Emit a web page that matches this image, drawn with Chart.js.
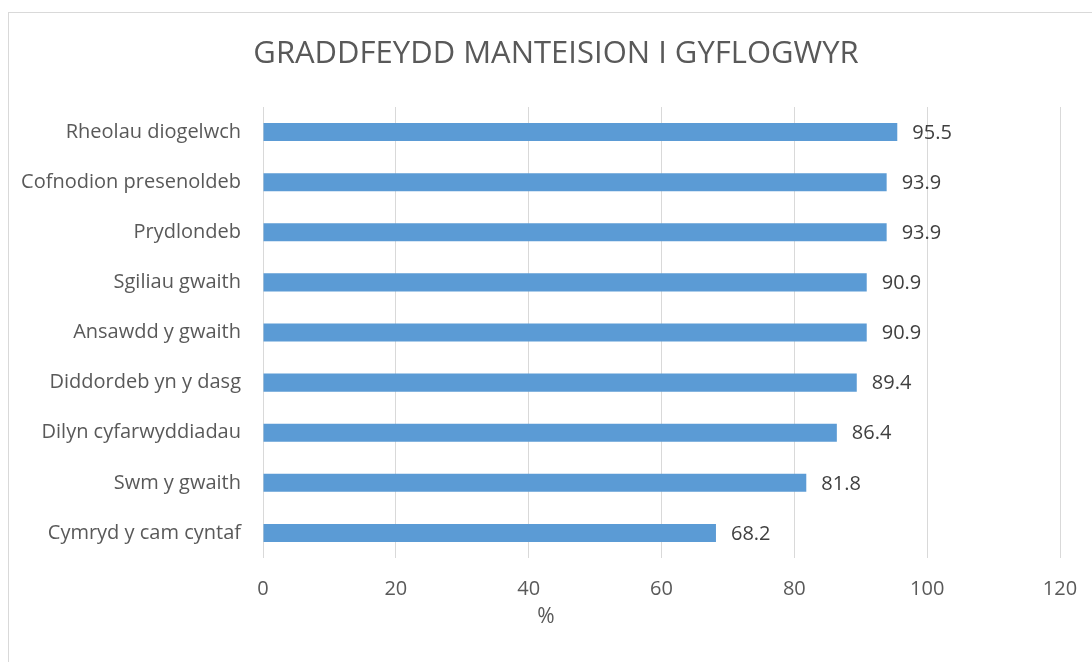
<!DOCTYPE html>
<html>
<head>
<meta charset="utf-8">
<script src="https://cdn.jsdelivr.net/npm/chart.js@4"></script>
<style>
  html, body { margin: 0; padding: 0; background: #fff; }
  #wrap { position: relative; width: 1092px; height: 662px; }
</style>
</head>
<body>
<div id="wrap"><canvas id="chart" width="1092" height="662"></canvas></div>
<script>
// data (top to bottom)
const categories = [
  'Rheolau diogelwch',
  'Cofnodion presenoldeb',
  'Prydlondeb',
  'Sgiliau gwaith',
  'Ansawdd y gwaith',
  'Diddordeb yn y dasg',
  'Dilyn cyfarwyddiadau',
  'Swm y gwaith',
  'Cymryd y cam cyntaf'
];
const values = [95.5, 93.9, 93.9, 90.9, 90.9, 89.4, 86.4, 81.8, 68.2];
const xTicks = [0, 20, 40, 60, 80, 100, 120];
const chartTitle = 'GRADDFEYDD MANTEISION I GYFLOGWYR';
const axisTitle = '%';

const FONT = "'Open Sans', 'Liberation Sans', sans-serif";
const GREY = '#595959';

// frame, title and axis title are centred on the whole chart, not the plot
const decor = {
  id: 'decor',
  beforeDraw(chart) {
    const ctx = chart.ctx;
    ctx.save();
    ctx.strokeStyle = '#d9d9d9';
    ctx.lineWidth = 1;
    ctx.strokeRect(8.5, 12.5, 1300, 900);
    ctx.restore();
  },
  afterDraw(chart) {
    const ctx = chart.ctx;
    ctx.save();
    ctx.fillStyle = GREY;
    ctx.textAlign = 'center';
    ctx.textBaseline = 'middle';
    ctx.font = '31px ' + FONT;
    ctx.fillText(chartTitle, 556, 54);
    ctx.font = '21px ' + FONT;
    ctx.fillText(axisTitle, 546, 617);
    ctx.restore();
  }
};

// value labels to the right of each bar
const valueLabels = {
  id: 'valueLabels',
  afterDatasetsDraw(chart) {
    const ctx = chart.ctx;
    const meta = chart.getDatasetMeta(0);
    ctx.save();
    ctx.font = '20px ' + FONT;
    ctx.fillStyle = '#404040';
    ctx.textAlign = 'left';
    ctx.textBaseline = 'middle';
    meta.data.forEach((bar, i) => {
      ctx.fillText(values[i].toFixed(1), bar.x + 15, bar.y + 1);
    });
    ctx.restore();
  }
};

new Chart(document.getElementById('chart'), {
  type: 'bar',
  data: {
    labels: categories,
    datasets: [{
      data: values,
      backgroundColor: '#5B9BD5',
      borderWidth: 0,
      categoryPercentage: 1,
      barPercentage: 0.36
    }]
  },
  options: {
    indexAxis: 'y',
    responsive: false,
    animation: false,
    layout: { padding: { left: 0, right: 32, top: 107, bottom: 0 } },
    plugins: {
      legend: { display: false },
      tooltip: { enabled: false },
      title: { display: false }
    },
    scales: {
      x: {
        min: 0,
        max: 120,
        afterBuildTicks(scale) {
          scale.ticks = xTicks.map(v => ({ value: v }));
        },
        afterFit(scale) {
          scale.height = 104;
          scale.paddingLeft = 0;
          scale.paddingRight = 0;
        },
        grid: { color: '#d9d9d9', drawTicks: false },
        border: { display: false },
        ticks: {
          color: GREY,
          padding: 19,
          font: { family: FONT, size: 20 }
        }
      },
      y: {
        afterFit(scale) { scale.width = 263; },
        grid: { display: false, drawTicks: false },
        border: { display: false },
        ticks: {
          color: GREY,
          padding: 22,
          font: { family: FONT, size: 20 }
        }
      }
    }
  },
  plugins: [decor, valueLabels]
});
</script>
</body>
</html>
